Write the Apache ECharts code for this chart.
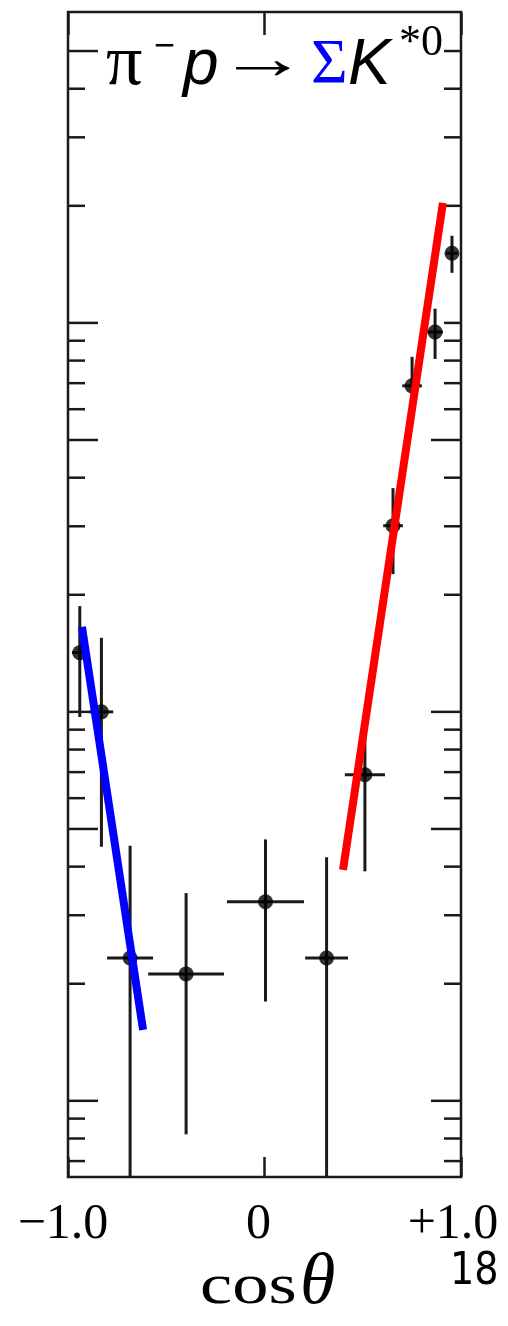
<!DOCTYPE html>
<html>
<head>
<meta charset="utf-8">
<script src="https://cdn.jsdelivr.net/npm/echarts@6/dist/echarts.min.js"></script>
<style>
  html, body { margin: 0; padding: 0; background: #ffffff; }
  #chart { width: 508px; height: 1326px; }
</style>
</head>
<body>
<div id="chart"></div>
<script>
// Angular distribution of pi- p -> Sigma K*0, log vertical scale
const cosTheta        = [-0.94, -0.83, -0.684, -0.399, 0.005, 0.316, 0.511, 0.654, 0.751, 0.868, 0.954];
const binHalfWidth    = [0.04, 0.06, 0.117, 0.193, 0.196, 0.109, 0.102, 0.05, 0.05, 0.04, 0.03];
const crossSection    = [1.42, 1.0, 0.233, 0.212, 0.325, 0.233, 0.689, 3.01, 6.89, 9.48, 15.1];
const crossSectionErr = [0.45, 0.55, 0.22, 0.13, 0.145, 0.19, 0.30, 0.75, 1.29, 1.40, 1.65];

// Straight (exponential) guide lines in the backward and forward regions
const backwardFitX = [-0.929, -0.618];
const backwardFitY = [1.654, 0.1522];
const forwardFitX  = [0.3995, 0.908];
const forwardFitY  = [0.3925, 20.35];

// Axis ranges and tick definitions
const xRange = [-1, 1];
const yRange = [0.0637, 63.0];
const xTickLabels = { '-1': '−1.0', '0': '0', '1': '+1.0' };
const yTickValues = [0.07, 0.08, 0.09, 0.1, 0.2, 0.3, 0.4, 0.5, 0.6, 0.7, 0.8, 0.9,
                     1, 2, 3, 4, 5, 6, 7, 8, 9, 10, 20, 30, 40, 50];
const yLongTicksLeft  = [0.1, 0.5, 1, 5, 10, 50];
const yLongTicksRight = [0.1, 0.5, 1, 5];

const INK = '#1a1a1a';

const points = cosTheta.map((c, i) => [c, crossSection[i], binHalfWidth[i], crossSectionErr[i]]);
const tickData = [];
yTickValues.forEach(v => { tickData.push([xRange[0], v]); tickData.push([xRange[1], v]); });

const chart = echarts.init(document.getElementById('chart'), null, { renderer: 'canvas' });

const option = {
  animation: false,
  backgroundColor: '#ffffff',
  grid: {
    left: 68, right: 47, top: 12, bottom: 149,
    show: true, borderColor: INK, borderWidth: 2.5, backgroundColor: 'transparent',
    containLabel: false, outerBoundsMode: 'none'
  },
  xAxis: [
    {
      type: 'value', min: xRange[0], max: xRange[1], interval: 1, position: 'bottom',
      axisLine: { show: false },
      axisTick: { show: true, inside: true, length: 20, lineStyle: { color: INK, width: 2.5 } },
      splitLine: { show: false },
      axisLabel: {
        show: true, interval: 0, showMinLabel: true, showMaxLabel: true, margin: 23,
        formatter: v => {
          const t = xTickLabels[String(Math.round(v))];
          if (v < -0.5) return '{a|' + t + '}';
          if (v > 0.5) return '{c|' + t + '}';
          return '{b|' + t + '}';
        },
        rich: {
          a: { fontFamily: 'Liberation Serif', fontSize: 50, lineHeight: 50, color: '#000', padding: [0, 10, 0, 0] },
          b: { fontFamily: 'Liberation Serif', fontSize: 50, lineHeight: 50, color: '#000', padding: [0, 12, 0, 0] },
          c: { fontFamily: 'Liberation Serif', fontSize: 50, lineHeight: 50, color: '#000', padding: [0, 16, 0, 0] }
        }
      }
    },
    {
      type: 'value', min: xRange[0], max: xRange[1], interval: 1, position: 'top',
      axisLine: { show: false },
      axisTick: { show: true, inside: true, length: 23, lineStyle: { color: INK, width: 2.5 } },
      splitLine: { show: false },
      axisLabel: { show: false }
    }
  ],
  yAxis: {
    type: 'log', logBase: 10, min: yRange[0], max: yRange[1],
    axisLine: { show: false }, axisTick: { show: false },
    axisLabel: { show: false }, splitLine: { show: false }, minorTick: { show: false }
  },
  series: [
    {
      // log-scale tick marks on both vertical edges
      type: 'custom',
      coordinateSystem: 'cartesian2d',
      xAxisIndex: 0,
      data: tickData,
      silent: true,
      z: 3,
      renderItem: (params, api) => {
        const side = api.value(0);
        const v = api.value(1);
        const p = api.coord([side, v]);
        const isLeft = side < 0;
        const longList = isLeft ? yLongTicksLeft : yLongTicksRight;
        const isLong = longList.some(t => Math.abs(t - v) < 1e-9);
        const len = isLong ? 30 : 17;
        const x2 = isLeft ? p[0] + len : p[0] - len;
        return {
          type: 'line',
          shape: { x1: p[0], y1: p[1], x2: x2, y2: p[1] },
          style: { stroke: INK, lineWidth: 2.5 }
        };
      }
    },
    {
      // error bars
      type: 'custom',
      coordinateSystem: 'cartesian2d',
      xAxisIndex: 0,
      data: points,
      clip: true,
      silent: true,
      z: 4,
      renderItem: (params, api) => {
        const x = api.value(0), y = api.value(1), dx = api.value(2), dy = api.value(3);
        const c = api.coord([x, y]);
        const l = api.coord([x - dx, y]);
        const r = api.coord([x + dx, y]);
        const t = api.coord([x, y + dy]);
        const lo = y - dy;
        const bottomY = lo > 0 ? api.coord([x, lo])[1] : params.coordSys.y + params.coordSys.height;
        const style = { stroke: INK, lineWidth: 3 };
        return {
          type: 'group',
          children: [
            { type: 'line', shape: { x1: l[0], y1: c[1], x2: r[0], y2: c[1] }, style: style },
            { type: 'line', shape: { x1: c[0], y1: t[1], x2: c[0], y2: bottomY }, style: style }
          ]
        };
      }
    },
    {
      type: 'scatter',
      xAxisIndex: 0,
      data: points.map(p => [p[0], p[1]]),
      symbol: 'circle',
      symbolSize: 15,
      itemStyle: { color: '#000' },
      silent: true,
      z: 5
    },
    {
      type: 'line',
      xAxisIndex: 0,
      data: backwardFitX.map((x, i) => [x, backwardFitY[i]]),
      showSymbol: false, symbol: 'none',
      lineStyle: { color: '#0000ff', width: 8, cap: 'butt' },
      silent: true,
      z: 6
    },
    {
      type: 'line',
      xAxisIndex: 0,
      data: forwardFitX.map((x, i) => [x, forwardFitY[i]]),
      showSymbol: false, symbol: 'none',
      lineStyle: { color: '#ff0000', width: 8, cap: 'butt' },
      silent: true,
      z: 6
    }
  ],
  graphic: [
    // reaction label: pi- p -> Sigma K*0
    { type: 'text', x: 106, y: 65, style: { text: 'π', font: '72px "Liberation Serif"', fill: '#000', textAlign: 'left', textVerticalAlign: 'middle' } },
    { type: 'text', x: 154, y: 47, style: { text: '−', font: '36px "Liberation Sans"', fill: '#000', textAlign: 'left', textVerticalAlign: 'middle' } },
    { type: 'text', x: 183, y: 66, style: { text: 'p', font: 'italic 64px "Liberation Sans"', fill: '#000', textAlign: 'left', textVerticalAlign: 'middle' } },
    { type: 'text', x: 218, y: 62, scaleX: 1.5, style: { text: '→', font: '60px "Liberation Serif"', fill: '#000', textAlign: 'left', textVerticalAlign: 'middle' } },
    { type: 'text', x: 311, y: 66, style: { text: 'Σ', font: '63px "Liberation Serif"', fill: '#0000ff', textAlign: 'left', textVerticalAlign: 'middle' } },
    { type: 'text', x: 348, y: 66, style: { text: 'K', font: 'italic 64px "Liberation Sans"', fill: '#000', textAlign: 'left', textVerticalAlign: 'middle' } },
    { type: 'text', x: 399, y: 43, style: { text: '*0', font: '44px "Liberation Serif"', fill: '#000', textAlign: 'left', textVerticalAlign: 'middle' } },
    // axis title
    { type: 'text', x: 200, y: 1288, scaleX: 1.25, style: { text: 'cos', font: '58px "Liberation Serif"', fill: '#000', textAlign: 'left', textVerticalAlign: 'middle' } },
    { type: 'text', x: 300, y: 1284, style: { text: 'θ', font: 'italic 72px "Liberation Serif"', fill: '#000', textAlign: 'left', textVerticalAlign: 'middle' } },
    // figure number
    { type: 'text', x: 450, y: 1272, scaleX: 0.85, style: { text: '18', font: '45px "DejaVu Sans"', fill: '#000', textAlign: 'left', textVerticalAlign: 'middle' } }
  ]
};

chart.setOption(option);
</script>
</body>
</html>
